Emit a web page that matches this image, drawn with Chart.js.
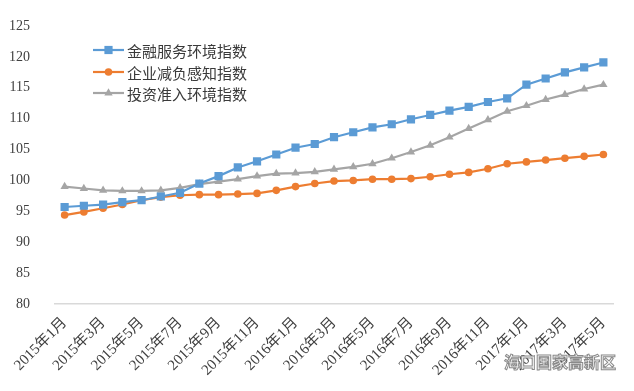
<!DOCTYPE html>
<html>
<head>
<meta charset="utf-8">
<script src="https://cdn.jsdelivr.net/npm/chart.js@4/dist/chart.umd.min.js"></script>
<style>
  html, body { margin: 0; padding: 0; background: #fff; }
  #wrap { width: 634px; height: 391px; position: relative; }
</style>
</head>
<body>
<div id="wrap"><canvas id="indexChart"></canvas></div>
<script>
var months = [
    '2015年1月','2015年2月','2015年3月','2015年4月','2015年5月','2015年6月',
    '2015年7月','2015年8月','2015年9月','2015年10月','2015年11月','2015年12月',
    '2016年1月','2016年2月','2016年3月','2016年4月','2016年5月','2016年6月',
    '2016年7月','2016年8月','2016年9月','2016年10月','2016年11月','2016年12月',
    '2017年1月','2017年2月','2017年3月','2017年4月','2017年5月'
];

var seriesNames = ['金融服务环境指数', '企业减负感知指数', '投资准入环境指数'];

var finance = [95.7, 95.9, 96.1, 96.5, 96.8, 97.4, 98.0, 99.5, 100.7, 102.1, 103.1, 104.2,
    105.3, 105.9, 107.0, 107.8, 108.6, 109.1, 109.9, 110.6, 111.3, 111.9, 112.7, 113.3,
    115.5, 116.5, 117.5, 118.3, 119.1];

var burden = [94.4, 94.9, 95.5, 96.1, 96.8, 97.3, 97.6, 97.7, 97.7, 97.8, 97.9, 98.4,
    99.0, 99.5, 99.9, 100.0, 100.2, 100.2, 100.3, 100.6, 101.0, 101.3, 101.9, 102.7,
    103.0, 103.3, 103.6, 103.9, 104.2];

var access = [99.0, 98.7, 98.4, 98.3, 98.3, 98.4, 98.8, 99.4, 99.8, 100.2, 100.7, 101.1,
    101.2, 101.4, 101.8, 102.2, 102.7, 103.6, 104.6, 105.7, 107.0, 108.4, 109.8, 111.2,
    112.1, 113.1, 113.9, 114.8, 115.5];

var yMin = 80, yMax = 125, yStep = 5;

var colors = ['#5B9BD5', '#ED7D31', '#A5A5A5'];
var markers = ['rect', 'circle', 'triangle'];
var markerSize = [5.8, 3.8, 4.8];

function makeSet(i, values) {
    return {
        label: seriesNames[i],
        data: values,
        borderColor: colors[i],
        backgroundColor: colors[i],
        borderWidth: 2.2,
        pointStyle: markers[i],
        pointRadius: markerSize[i],
        pointBorderWidth: 0,
        pointBackgroundColor: colors[i],
        tension: 0
    };
}

// legend sits inside the plot, top-left, like the Excel original
var innerLegend = {
    id: 'innerLegend',
    afterDraw: function(chart) {
        var ctx = chart.ctx;
        var rows = [50, 72, 93];
        ctx.save();
        for (var i = 0; i < seriesNames.length; i++) {
            var y = rows[i];
            ctx.strokeStyle = colors[i];
            ctx.lineWidth = 2.2;
            ctx.beginPath();
            ctx.moveTo(93, y);
            ctx.lineTo(124, y);
            ctx.stroke();
            ctx.fillStyle = colors[i];
            Chart.helpers.drawPoint(ctx, { pointStyle: markers[i], radius: markerSize[i], borderWidth: 0 }, 108.5, y);
            ctx.fillStyle = '#3a3a3a';
            ctx.font = '15px "Noto Sans CJK SC", sans-serif';
            ctx.textBaseline = 'middle';
            ctx.textAlign = 'left';
            ctx.fillText(seriesNames[i], 127, y + 1);
        }
        // watermark in the bottom-right corner
        ctx.font = 'bold 16px "Noto Sans CJK SC", sans-serif';
        ctx.lineWidth = 1;
        ctx.strokeStyle = '#8a8a8a';
        ctx.fillStyle = 'rgba(255,255,255,0.9)';
        ctx.fillText('海口国家高新区', 504, 362);
        ctx.strokeText('海口国家高新区', 504, 362);
        ctx.restore();
    }
};

var context = document.getElementById('indexChart').getContext('2d');
var myChart = new Chart(context, {
    type: 'line',
    data: {
        labels: months,
        datasets: [makeSet(0, finance), makeSet(1, burden), makeSet(2, access)]
    },
    options: {
        responsive: true,
        maintainAspectRatio: false,
        animation: false,
        layout: { padding: { top: 26, right: 21, left: 0, bottom: 0 } },
        plugins: {
            legend: { display: false },
            tooltip: { enabled: false }
        },
        scales: {
            x: {
                offset: true,
                grid: { display: false, offset: true },
                border: { display: true, color: '#d9d9d9', width: 1.5 },
                ticks: {
                    autoSkip: false,
                    maxRotation: 45,
                    minRotation: 45,
                    padding: 2,
                    color: '#404040',
                    font: { family: '"Liberation Serif", "Noto Sans CJK SC", serif', size: 15 },
                    callback: function(value, index) {
                        return index % 2 === 0 ? months[index] : '';
                    }
                },
                afterFit: function(scale) { scale.height = 87; }
            },
            y: {
                min: yMin,
                max: yMax,
                grid: { display: false },
                border: { display: false },
                ticks: {
                    stepSize: yStep,
                    padding: 17,
                    color: '#404040',
                    font: { family: '"Liberation Serif", serif', size: 14 }
                },
                afterFit: function(scale) { scale.width = 55; }
            }
        }
    },
    plugins: [innerLegend]
});
</script>
</body>
</html>
